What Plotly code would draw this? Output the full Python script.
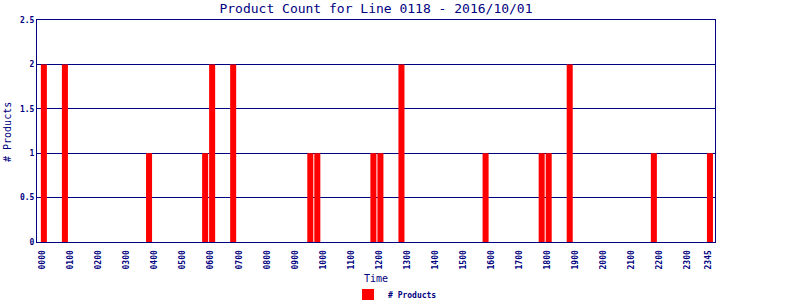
import plotly.graph_objects as go

hours = ["00", "01", "02", "03", "04", "05", "06", "07", "08", "09", "10", "11",
         "12", "13", "14", "15", "16", "17", "18", "19", "20", "21", "22", "23"]
quarters = ["00", "15", "30", "45"]
slots = [h + q for h in hours for q in quarters]

# counts per 15-minute slot (96 slots)
counts = [
    2, 0, 0, 2,  0, 0, 0, 0,  0, 0, 0, 0,  0, 0, 0, 1,   # 00-03
    0, 0, 0, 0,  0, 0, 0, 1,  2, 0, 0, 2,  0, 0, 0, 0,   # 04-07
    0, 0, 0, 0,  0, 0, 1, 1,  0, 0, 0, 0,  0, 0, 0, 1,   # 08-11
    1, 0, 0, 2,  0, 0, 0, 0,  0, 0, 0, 0,  0, 0, 0, 1,   # 12-15
    0, 0, 0, 0,  0, 0, 0, 1,  1, 0, 0, 2,  0, 0, 0, 0,   # 16-19
    0, 0, 0, 0,  0, 0, 0, 1,  0, 0, 0, 0,  0, 0, 0, 1,   # 20-23
]

tick_labels = [h + "00" for h in hours] + ["2345"]

navy = "#000080"
font = "DejaVu Sans Mono"

fig = go.Figure()
fig.add_trace(go.Bar(
    x=slots, y=counts, name="# Products",
    marker=dict(color="#ff0000", line=dict(width=0)),
    width=0.86, offset=-0.43 + 0.18,
))

fig.update_layout(
    width=800, height=300,
    margin=dict(l=37, r=85, t=20, b=58, autoexpand=False),
    paper_bgcolor="white", plot_bgcolor="white",
    title=dict(text="Product Count for Line 0118 - 2016/10/01",
               x=(37 + 715) / 2 / 800, xanchor="center", y=1 - 8 / 300, yanchor="middle",
               font=dict(family=font, size=13, color=navy)),
    showlegend=True,
    legend=dict(orientation="h", x=0.5 + 19 / 678, xanchor="center",
                y=-(295 - 242) / 222, yanchor="middle", yref="paper",
                font=dict(family=font, size=8, color=navy, weight="bold"),
                itemwidth=30),
    annotations=[
        dict(text="Time", xref="paper", yref="paper", x=0.5, y=-36 / 222,
             xanchor="center", yanchor="middle", showarrow=False,
             font=dict(family=font, size=10, color=navy)),
        dict(text="# Products", xref="paper", yref="paper", x=-30 / 678, y=(242 - 132) / 222,
             xanchor="center", yanchor="middle", showarrow=False, textangle=-90,
             font=dict(family=font, size=10, color=navy)),
    ],
)
fig.update_xaxes(
    type="category", categoryorder="array", categoryarray=slots,
    range=[-0.8, 95.9], automargin=False,
    tickmode="array", tickvals=tick_labels, ticktext=tick_labels,
    tickangle=-90, tickfont=dict(family=font, size=8, color=navy, weight="bold"),
    ticklabelstandoff=4,
    showgrid=False, showline=True, linecolor=navy, linewidth=1, mirror=True,
    ticks="", ticklen=0,
)
fig.update_yaxes(
    range=[0, 2.5], tickvals=[0, 0.5, 1, 1.5, 2, 2.5], automargin=False,
    ticktext=["0", "0.5", "1", "1.5", "2", "2.5"],
    tickfont=dict(family=font, size=8, color=navy, weight="bold"),
    showgrid=True, gridcolor=navy, gridwidth=1, zeroline=False,
    showline=True, linecolor=navy, linewidth=1, mirror=True,
)

fig.write_html("out.html")
